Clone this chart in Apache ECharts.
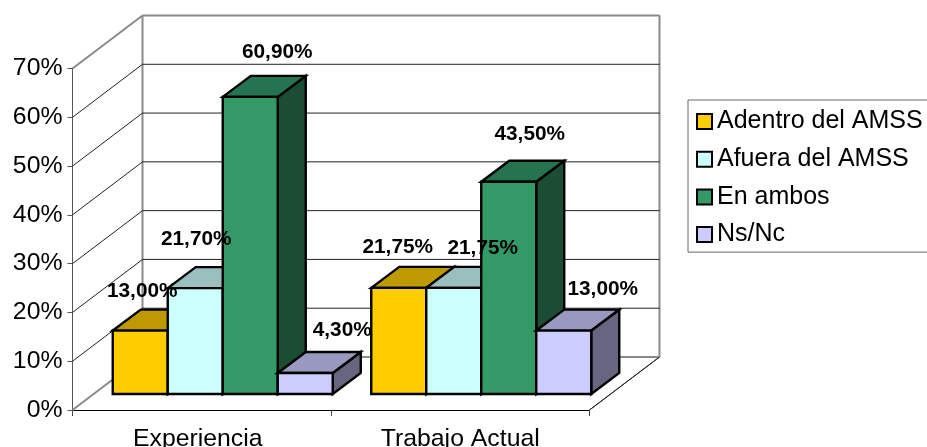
<!DOCTYPE html>
<html><head><meta charset="utf-8">
<style>html,body{margin:0;padding:0;background:#fff}#c{width:927px;height:447px}</style>
<script src="https://cdn.jsdelivr.net/npm/echarts@6/dist/echarts.min.js"></script>
</head><body><div id="c"></div>
<script>
const categories = ['Experiencia', 'Trabajo Actual'];
const seriesNames = ['Adentro del AMSS', 'Afuera del AMSS', 'En ambos', 'Ns/Nc'];
const adentro = [13.00, 21.75];
const afuera = [21.70, 21.75];
const ambos = [60.90, 43.50];
const nsnc = [4.30, 13.00];
const yTicks = [0, 10, 20, 30, 40, 50, 60, 70];

// label nudges from each bar's front-top centre (px), by series then category
const labelNudge = [
  [[2, -39], [-1, -41]],
  [[1, -49], [29, -40]],
  [[27, -45], [21, -48]],
  [[37, -43], [39, -41]]
];
const palette = [
  {front:'#FFCC00', top:'#BF9900', side:'#806600'},
  {front:'#CCFFFF', top:'#99BFBF', side:'#668080'},
  {front:'#339966', top:'#267350', side:'#1A4D33'},
  {front:'#CCCCFF', top:'#9999BF', side:'#666680'}
];
const allValues = [adentro, afuera, ambos, nsnc];
const WALL = {dx: 70, dy: 53};
const BAR = {sx: 21, sy: 16, dx: 28, dy: 21, w: 55};
const fontFamily = '"Liberation Sans", Arial, sans-serif';

function barGeom(api, s, c, v) {
  const base = api.coord([c, 0]);
  const top = api.coord([c, v]);
  const x0 = base[0] + BAR.sx + (s - 2) * BAR.w;
  return {x0, x1: x0 + BAR.w, y0: base[1] - BAR.sy, y1: top[1] - BAR.sy};
}
function barSeries(s) {
  return {
    name: seriesNames[s], type: 'custom', coordinateSystem: 'cartesian2d', z: 3, clip: false, silent: true,
    itemStyle: {color: palette[s].front, borderColor: '#000', borderWidth: 2},
    data: allValues[s].map((v, c) => [c, v]),
    encode: {x: 0, y: 1},
    renderItem(params, api) {
      const g = barGeom(api, s, api.value(0), api.value(1));
      const st = f => ({fill: f, stroke: '#000', lineWidth: 2.4, lineJoin: 'miter'});
      const d = BAR;
      return {type: 'group', children: [
        {type: 'polygon', shape: {points: [[g.x1, g.y0], [g.x1 + d.dx, g.y0 - d.dy], [g.x1 + d.dx, g.y1 - d.dy], [g.x1, g.y1]]}, style: st(palette[s].side)},
        {type: 'polygon', shape: {points: [[g.x0, g.y1], [g.x0 + d.dx, g.y1 - d.dy], [g.x1 + d.dx, g.y1 - d.dy], [g.x1, g.y1]]}, style: st(palette[s].top)},
        {type: 'rect', shape: {x: g.x0, y: g.y1, width: BAR.w, height: g.y0 - g.y1}, style: st(palette[s].front)}
      ]};
    }
  };
}
const labelData = [];
allValues.forEach((arr, s) => arr.forEach((v, c) => labelData.push([c, v, s])));

const option = {
  animation: false,
  backgroundColor: '#fff',
  textStyle: {fontFamily},
  grid: {left: 72.5, top: 68.5, width: 517, height: 341.5, outerBoundsMode: 'none'},
  xAxis: {
    type: 'category',
    data: categories.map((value, i) => i === 0 ? {value, textStyle: {padding: [0, 8, 0, 0]}} : value),
    boundaryGap: true,
    axisLine: {show: true, lineStyle: {color: '#000', width: 1}},
    axisTick: {show: true, length: 6, alignWithLabel: false, lineStyle: {color: '#444'}},
    axisLabel: {fontSize: 24.8, color: '#000', margin: 17, fontFamily},
    splitLine: {show: false}
  },
  yAxis: {
    type: 'value', min: 0, max: 70, interval: 10,
    axisLine: {show: true, lineStyle: {color: '#555', width: 1}},
    axisTick: {show: true, length: 5, lineStyle: {color: '#555'}},
    axisLabel: {fontSize: 24.8, color: '#000', margin: 10, formatter: '{value}%', fontFamily},
    splitLine: {show: false}
  },
  legend: {
    orient: 'vertical', left: 688, top: 100,
    padding: [9, 14, 5, 8], itemGap: 12.7, itemWidth: 15, itemHeight: 15,
    borderColor: '#666', borderWidth: 1, backgroundColor: '#fff',
    data: seriesNames.map(name => ({name, icon: 'rect'})),
    itemStyle: {borderColor: '#000', borderWidth: 2},
    textStyle: {fontSize: 25, color: '#000', fontFamily, padding: [0, 0, 0, 0]},
    selectedMode: false
  },
  series: [
    {
      type: 'custom', coordinateSystem: 'cartesian2d', z: 1, clip: false, silent: true,
      data: yTicks.map(t => [0, t]), encode: {x: 0, y: 1},
      renderItem(params, api) {
        const t = api.value(1);
        const cs = params.coordSys;
        const p = api.coord([0, t]);
        const xL = cs.x, xR = cs.x + cs.width;
        const edge = t === 0 || t === 70;
        const grey = {stroke: '#8a8a8a', lineWidth: 2};
        const thin = {stroke: '#222', lineWidth: 1};
        const kids = [
          {type: 'line', shape: {x1: xL, y1: p[1], x2: xL + WALL.dx, y2: p[1] - WALL.dy}, style: edge ? grey : thin},
          {type: 'line', shape: {x1: xL + WALL.dx, y1: p[1] - WALL.dy, x2: xR + WALL.dx, y2: p[1] - WALL.dy}, style: edge ? grey : thin}
        ];
        if (t === 0) {
          const mid = api.coord([0.5, 0])[0] + cs.width / 4;
          kids.push({type: 'line', shape: {x1: xR, y1: p[1], x2: xR + WALL.dx, y2: p[1] - WALL.dy}, style: thin});
          kids.push({type: 'line', shape: {x1: mid, y1: p[1], x2: mid + WALL.dx, y2: p[1] - WALL.dy}, style: thin});
          const top = api.coord([0, 70])[1] - WALL.dy;
          kids.push({type: 'line', shape: {x1: mid + WALL.dx, y1: top, x2: mid + WALL.dx, y2: p[1] - WALL.dy}, style: {stroke: '#333', lineWidth: 1}});
          kids.push({type: 'line', shape: {x1: xL + WALL.dx, y1: top, x2: xL + WALL.dx, y2: p[1] - WALL.dy}, style: grey});
          kids.push({type: 'line', shape: {x1: xR + WALL.dx, y1: top, x2: xR + WALL.dx, y2: p[1] - WALL.dy}, style: grey});
        }
        return {type: 'group', children: kids};
      }
    },
    barSeries(0), barSeries(1), barSeries(2), barSeries(3),
    {
      type: 'custom', coordinateSystem: 'cartesian2d', z: 6, clip: false, silent: true,
      data: labelData, encode: {x: 0, y: 1},
      renderItem(params, api) {
        const c = api.value(0), v = api.value(1), s = api.value(2);
        const g = barGeom(api, s, c, v);
        const n = labelNudge[s][c];
        return {type: 'text', style: {
          text: v.toFixed(2).replace('.', ',') + '%',
          x: (g.x0 + g.x1) / 2 + n[0], y: g.y1 + n[1],
          fill: '#000', font: 'bold 20.8px ' + fontFamily, textAlign: 'center', textVerticalAlign: 'middle'
        }};
      }
    }
  ]
};
echarts.init(document.getElementById('c'), null, {renderer: 'canvas'}).setOption(option);
</script></body></html>
